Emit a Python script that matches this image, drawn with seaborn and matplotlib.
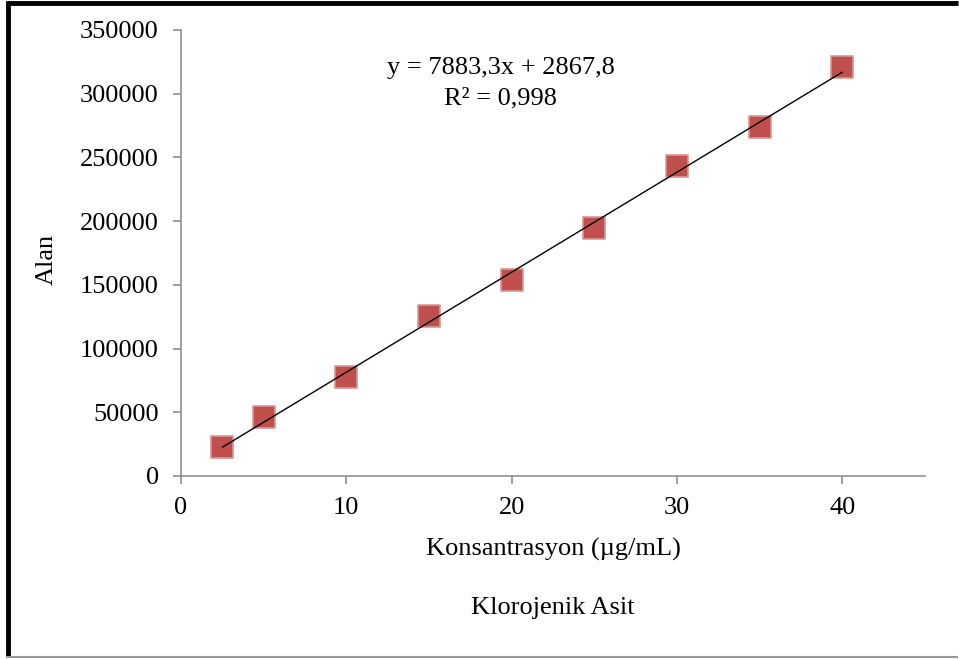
import numpy as np
import pandas as pd
import matplotlib
matplotlib.use("Agg")
import matplotlib.pyplot as plt
import seaborn as sns
from matplotlib.lines import Line2D

# Data
konsantrasyon = [2.5, 5, 10, 15, 20, 25, 30, 35, 40]
alan = [22800, 46300, 77700, 125600, 153800, 194700, 243300, 274000, 321000]
x_ticks = [0, 10, 20, 30, 40]
y_ticks = [0, 50000, 100000, 150000, 200000, 250000, 300000, 350000]
equation_text = "y = 7883,3x + 2867,8"
r2_text = "R² = 0,998"
x_label = "Konsantrasyon (µg/mL)"
y_label = "Alan"
title_text = "Klorojenik Asit"

sns.set_theme(style="white")
plt.rcParams['font.family'] = ['Liberation Serif', 'DejaVu Serif']
plt.rcParams['text.color'] = 'black'

fig = plt.figure(figsize=(9.59, 6.59), dpi=100)
ax = fig.add_axes([181/959, 1-476/659, (925-181)/959, 446/659])

df = pd.DataFrame({"x": konsantrasyon, "y": alan})
sns.scatterplot(data=df, x="x", y="y", marker="s", s=240, color="#C0504D",
                edgecolor="#DA9694", linewidth=1.2, ax=ax, zorder=3)

slope, intercept = np.polyfit(konsantrasyon, alan, 1)
xl = np.array([min(konsantrasyon), max(konsantrasyon)])
sns.lineplot(x=xl, y=slope*xl + intercept, color="black", linewidth=1.0, ax=ax, zorder=4)

ax.set_xlim(0, 45)
ax.set_ylim(0, 350000)
ax.set_xticks(x_ticks)
ax.set_yticks(y_ticks)
ax.set_xticklabels([str(t) for t in x_ticks])
ax.set_yticklabels([str(t) for t in y_ticks])
for s in ["top", "right"]:
    ax.spines[s].set_visible(False)
for s in ["left", "bottom"]:
    ax.spines[s].set_color("#868686")
    ax.spines[s].set_linewidth(1.1)
ax.tick_params(axis="both", direction="out", length=6, width=1.1, color="#868686",
               labelsize=19, labelcolor="black", left=True, bottom=True)
ax.tick_params(axis="y", pad=10)
ax.tick_params(axis="x", pad=9)
ax.set_xlabel("")
ax.set_ylabel("")

fig.text(47/959, 1-259/659, y_label, rotation=90, ha="center", va="center", fontsize=19)
fig.text(553/959, 1-549/659, x_label, ha="center", va="center", fontsize=19)
fig.text(553/959, 1-608/659, title_text, ha="center", va="center", fontsize=19)
fig.text(501/959, 1-68/659, equation_text, ha="center", va="center", fontsize=19)
fig.text(501/959, 1-98/659, r2_text, ha="center", va="center", fontsize=19)

# Frame around the figure
fig.add_artist(Line2D([6/959, 958/959], [1-3/659, 1-3/659], transform=fig.transFigure,
                      color="black", linewidth=3.5, solid_capstyle="butt"))
fig.add_artist(Line2D([8/959, 8/959], [1-1/659, 1-657/659], transform=fig.transFigure,
                      color="black", linewidth=3.5, solid_capstyle="butt"))
fig.add_artist(Line2D([6/959, 958/959], [1-656.5/659, 1-656.5/659], transform=fig.transFigure,
                      color="#9A9A9A", linewidth=1.5, solid_capstyle="butt"))

fig.savefig("out.png", dpi=100)
